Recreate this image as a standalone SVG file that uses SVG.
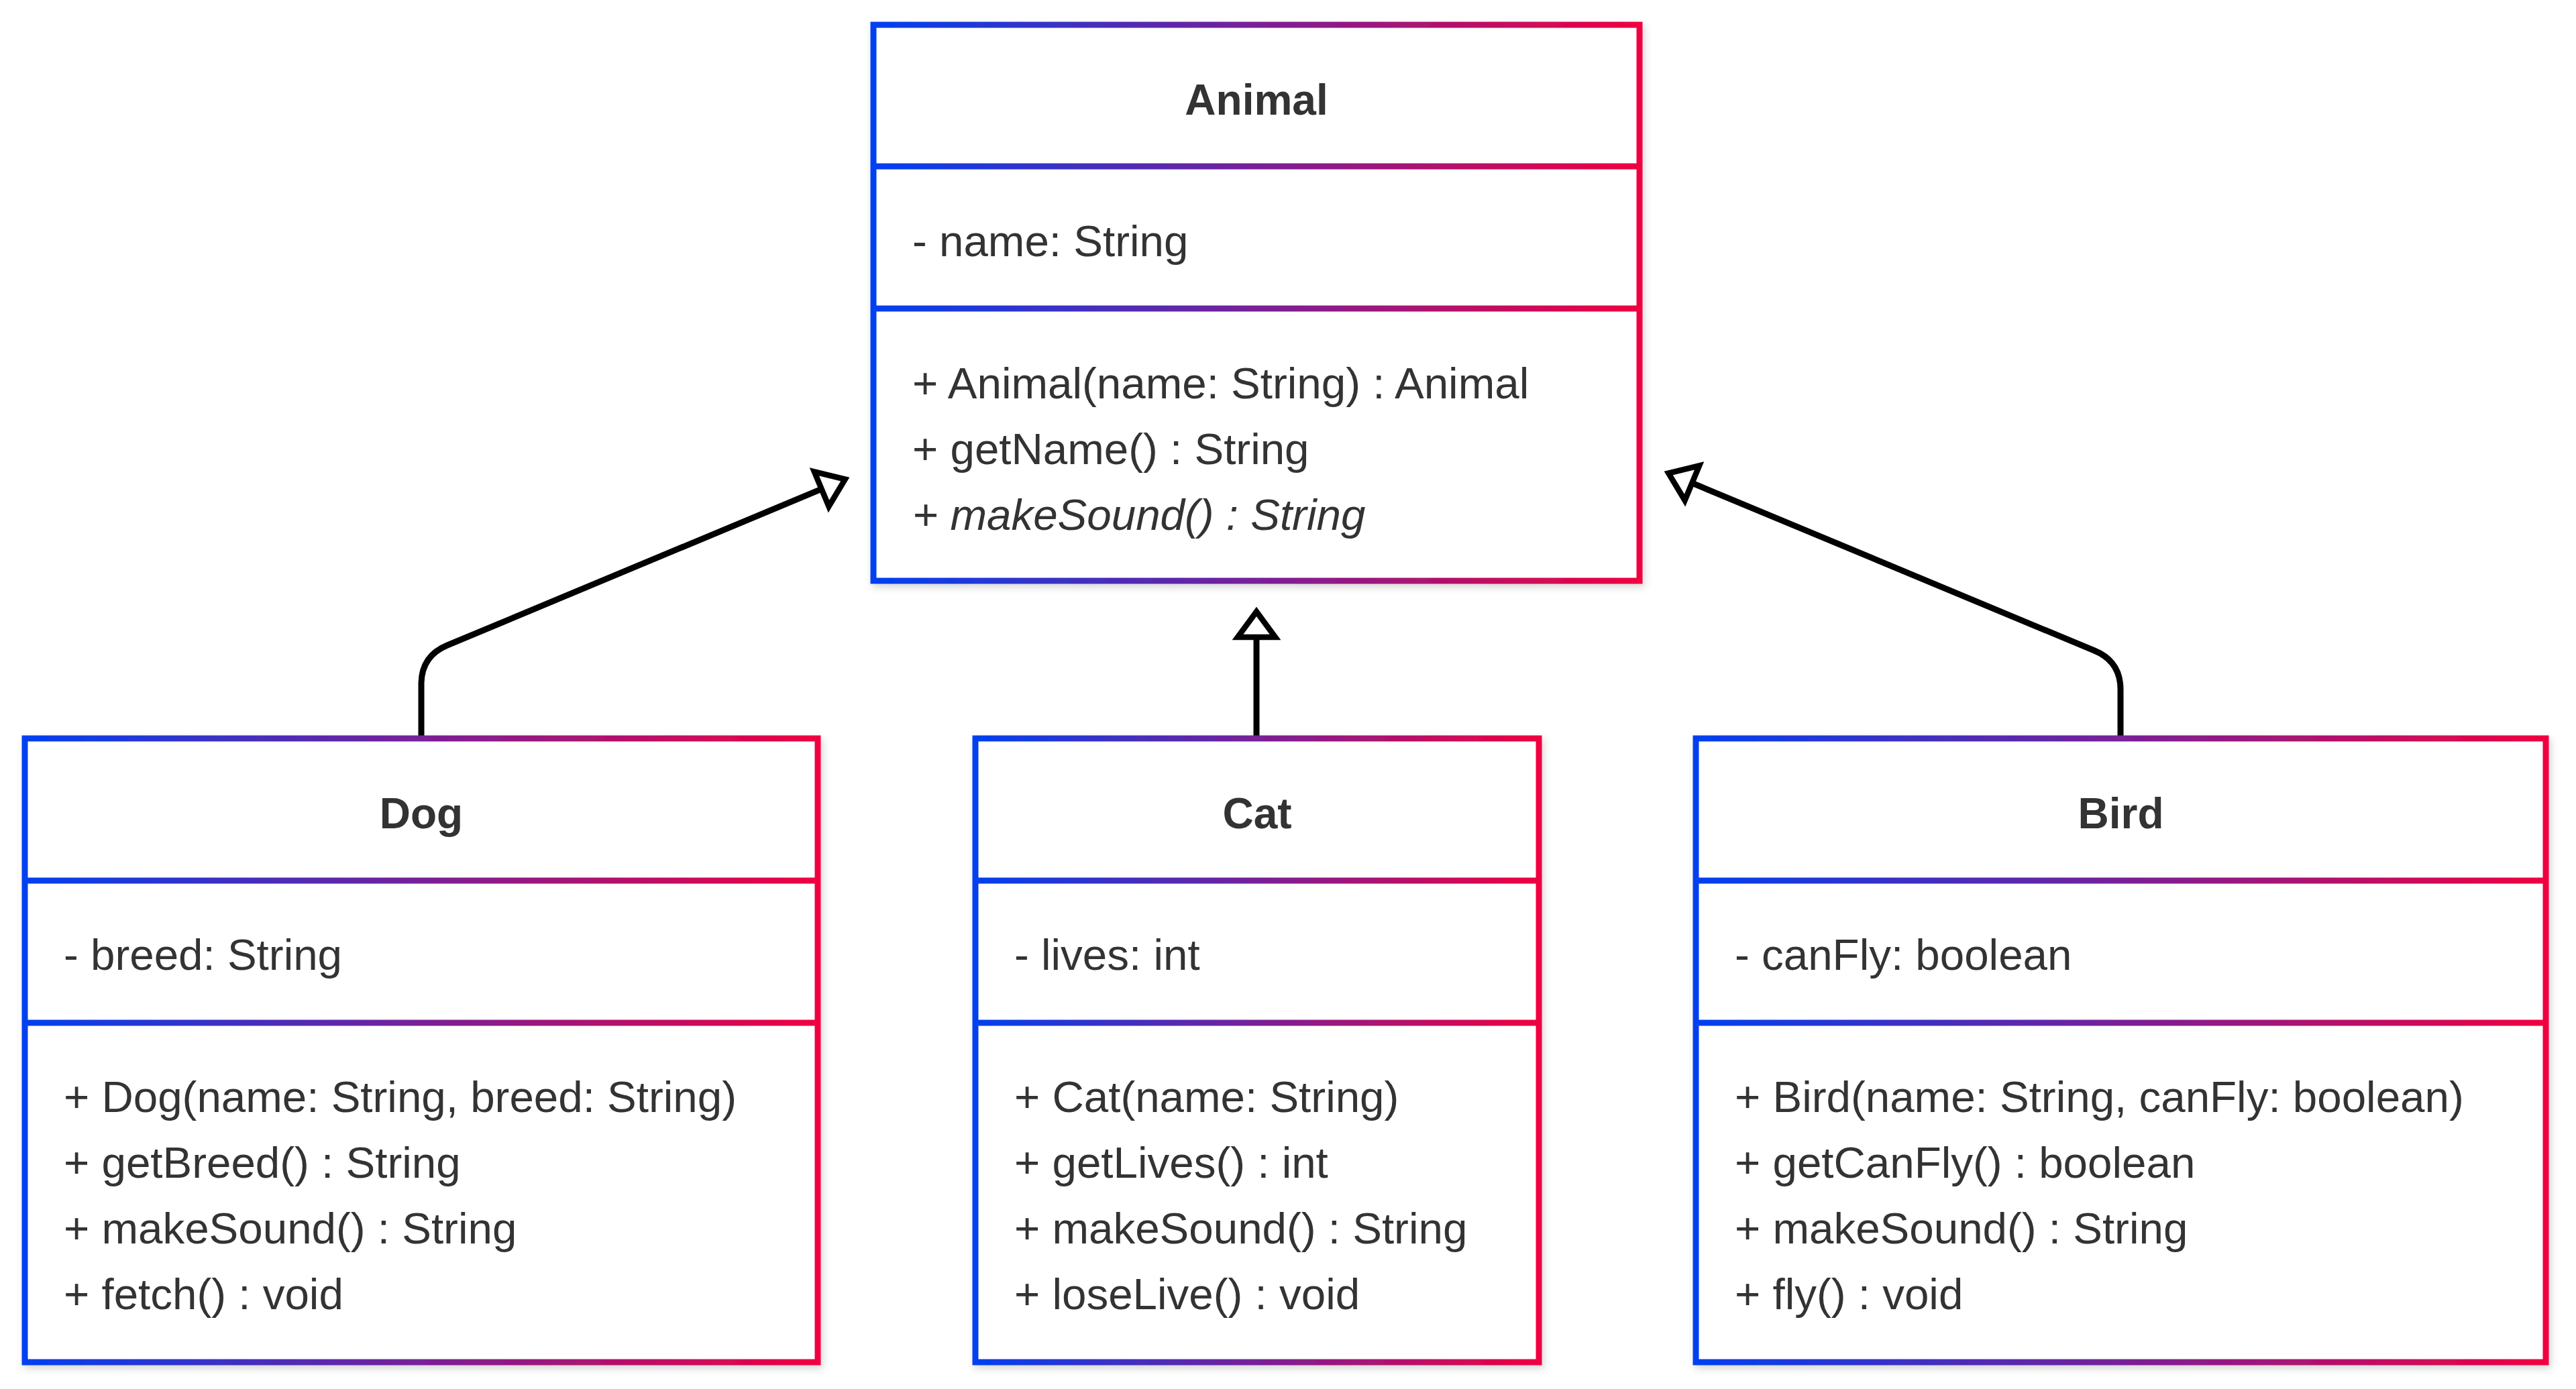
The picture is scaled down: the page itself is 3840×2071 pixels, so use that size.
<svg xmlns="http://www.w3.org/2000/svg" width="3840" height="2071" viewBox="0 0 3840 2071">
  <defs>
    <linearGradient id="grad" x1="0" y1="0" x2="1" y2="0">
      <stop offset="0" stop-color="#0040F0"/>
      <stop offset="1" stop-color="#F00040"/>
    </linearGradient>
    <filter id="shadow" x="-5%" y="-5%" width="110%" height="110%">
      <feDropShadow dx="3" dy="5" stdDeviation="6" flood-color="#000000" flood-opacity="0.16"/>
    </filter>
    <marker id="inherit" markerUnits="userSpaceOnUse" markerWidth="120" markerHeight="120" refX="0" refY="0" orient="auto" overflow="visible">
      <path d="M0,-28 L38,0 L0,28 Z" fill="#ffffff" stroke="#000000" stroke-width="8.5" stroke-linejoin="miter"/>
    </marker>
  </defs>
  <style>
    .box { fill: #ffffff; stroke: url(#grad); stroke-width: 9; filter: url(#shadow); }
    .div { fill: url(#grad); }
    .title { font-family: "Liberation Sans", Arial, sans-serif; font-size: 64px; font-weight: bold; fill: #333333; text-anchor: middle; }
    .txt { font-family: "Liberation Sans", Arial, sans-serif; font-size: 65.5px; fill: #333333; }
    .it { font-style: italic; }
    .edge { fill: none; stroke: #000000; stroke-width: 9; marker-end: url(#inherit); }
  </style>
  <rect x="0" y="0" width="3840" height="2071" fill="#ffffff"/>

  <g id="connectors">
    <path class="edge" d="M628,1101 L628,1020 Q628,978 667,962 L1224.7,729.2"/>
    <path class="edge" d="M1873,1101 L1873,950"/>
    <path class="edge" d="M3161,1101 L3161,1028 Q3161,986 3122,970 L2522.3,720.2"/>
  </g>

  <g id="node-Animal">
    <rect class="box" x="1302" y="37" width="1142" height="829"/>
    <rect class="div" x="1302" y="243.5" width="1142" height="9"/>
    <rect class="div" x="1302" y="455.5" width="1142" height="9"/>
    <text class="title" x="1873" y="171">Animal</text>
    <text class="txt" x="1360" y="382">- name: String</text>
    <text class="txt" x="1360" y="594">+ Animal(name: String) : Animal</text>
    <text class="txt" x="1360" y="692">+ getName() : String</text>
    <text class="txt it" x="1360" y="790">+ makeSound() : String</text>
  </g>

  <g id="node-Dog">
    <rect class="box" x="37" y="1101" width="1182" height="930"/>
    <rect class="div" x="37" y="1308.5" width="1182" height="9"/>
    <rect class="div" x="37" y="1520.5" width="1182" height="9"/>
    <text class="title" x="628" y="1235">Dog</text>
    <text class="txt" x="95" y="1446">- breed: String</text>
    <text class="txt" x="95" y="1658">+ Dog(name: String, breed: String)</text>
    <text class="txt" x="95" y="1756">+ getBreed() : String</text>
    <text class="txt" x="95" y="1854">+ makeSound() : String</text>
    <text class="txt" x="95" y="1952">+ fetch() : void</text>
  </g>

  <g id="node-Cat">
    <rect class="box" x="1454" y="1101" width="840" height="930"/>
    <rect class="div" x="1454" y="1308.5" width="840" height="9"/>
    <rect class="div" x="1454" y="1520.5" width="840" height="9"/>
    <text class="title" x="1874" y="1235">Cat</text>
    <text class="txt" x="1512" y="1446">- lives: int</text>
    <text class="txt" x="1512" y="1658">+ Cat(name: String)</text>
    <text class="txt" x="1512" y="1756">+ getLives() : int</text>
    <text class="txt" x="1512" y="1854">+ makeSound() : String</text>
    <text class="txt" x="1512" y="1952">+ loseLive() : void</text>
  </g>

  <g id="node-Bird">
    <rect class="box" x="2528" y="1101" width="1267" height="930"/>
    <rect class="div" x="2528" y="1308.5" width="1267" height="9"/>
    <rect class="div" x="2528" y="1520.5" width="1267" height="9"/>
    <text class="title" x="3161.5" y="1235">Bird</text>
    <text class="txt" x="2586" y="1446">- canFly: boolean</text>
    <text class="txt" x="2586" y="1658">+ Bird(name: String, canFly: boolean)</text>
    <text class="txt" x="2586" y="1756">+ getCanFly() : boolean</text>
    <text class="txt" x="2586" y="1854">+ makeSound() : String</text>
    <text class="txt" x="2586" y="1952">+ fly() : void</text>
  </g>
</svg>
